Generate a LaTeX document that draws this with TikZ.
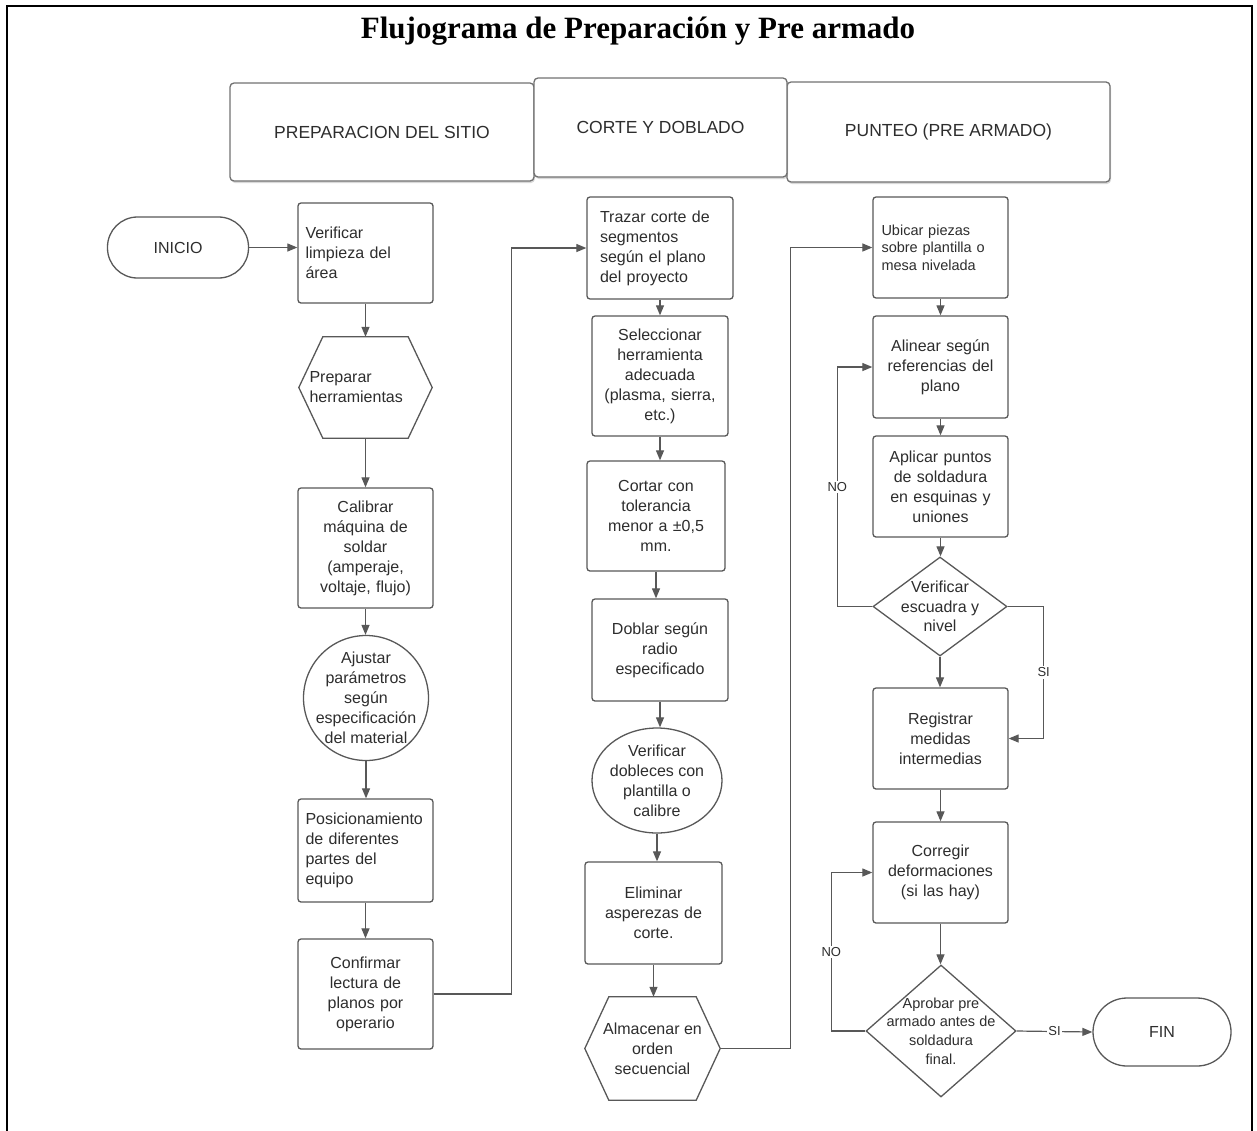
\documentclass[tikz,border=0pt]{standalone}
\usepackage{fontspec}
\setmainfont{Liberation Sans}
\newfontfamily\titlefont{Liberation Serif}
\usetikzlibrary{arrows.meta,shapes.geometric,shadows}
\definecolor{linegray}{RGB}{88,88,88}
\definecolor{txtgray}{RGB}{45,45,45}
\tikzset{
  proc/.style={draw=linegray,line width=1.3pt,rounded corners=3pt,minimum width=135pt,minimum height=101pt,
    text width=120pt,inner sep=0pt,align=center,text=txtgray,font=\fontsize{16}{20}\selectfont},
  procl/.style={proc,align=left},
  hdr/.style={draw=linegray!85,line width=1.3pt,rounded corners=4pt,fill=white,text=txtgray,
    font=\fontsize{17.5}{21}\selectfont,drop shadow={opacity=0.3,shadow xshift=1pt,shadow yshift=-2pt}},
  term/.style={draw=linegray,line width=1.3pt,text=txtgray,font=\fontsize{16}{20}\selectfont},
  txt/.style={text=txtgray,font=\fontsize{16}{20}\selectfont,align=center},
  shp/.style={draw=linegray,line width=1.3pt,inner sep=0pt},
  lbl/.style={fill=white,text=txtgray,font=\fontsize{13}{15}\selectfont,inner sep=1.5pt},
  conn/.style={draw=linegray,line width=1.2pt,->}
}
\begin{document}
\begin{tikzpicture}[x=1pt,y=-1pt,>={Triangle[length=10pt,width=8pt]}]
  \useasboundingbox (0,0) rectangle (1257,1130);
  \draw[line width=2.5pt] (7,1135) -- (7,6) -- (1252,6) -- (1252,1135);
  \node[font=\titlefont\bfseries\fontsize{31}{36}\selectfont] (title) at (638,31) {Flujograma de Preparación y Pre armado};

  \node[hdr,minimum width=304pt,minimum height=98pt] (hprep) at (382,132) {PREPARACION DEL SITIO};
  \node[hdr,minimum width=323pt,minimum height=100pt] (hpunt) at (948.5,132) {PUNTEO (PRE ARMADO)};
  \node[hdr,minimum width=253pt,minimum height=99pt] (hcort) at (660.5,127.5) {CORTE Y DOBLADO};

  \node[term,rounded corners=30pt,minimum width=141pt,minimum height=61pt] (ini) at (178,247.5) {INICIO};
  \node[procl,minimum height=100pt] (ver) at (365.5,253) {Verificar\\limpieza del\\área};
  \node[txt,align=left,inner sep=0pt,text width=112pt,minimum width=133pt,minimum height=101pt] (prep) at (365.5,387.5) {Preparar\\herramientas};
  \node[proc,minimum height=120pt] (cal) at (365.5,548) {Calibrar\\máquina de\\soldar\\(amperaje,\\voltaje, flujo)};
  \node[shp,circle,minimum size=125pt,label={[txt]center:{Ajustar\\parámetros\\según\\especificación\\del material}}] (ajus) at (366,698) {};
  \node[procl,minimum height=103pt] (pos) at (365.5,850.5) {Posicionamiento\\de diferentes\\partes del\\equipo};
  \node[proc,minimum height=110pt] (conf) at (365.5,994) {Confirmar\\lectura de\\planos por\\operario};

  \node[procl,minimum width=146pt,minimum height=102pt] (traz) at (660,248) {Trazar corte de\\segmentos\\según el plano\\del proyecto};
  \node[proc,minimum width=136pt,minimum height=120pt] (sel) at (660,376) {Seleccionar\\herramienta\\adecuada\\(plasma, sierra,\\etc.)};
  \node[proc,minimum width=138pt,minimum height=110pt] (cort) at (656,516) {Cortar con\\tolerancia\\menor a ±0,5\\mm.};
  \node[proc,minimum width=136pt,minimum height=102pt] (dob) at (660,650) {Doblar según\\radio\\especificado};
  \node[shp,ellipse,minimum width=130pt,minimum height=105pt,label={[txt]center:{Verificar\\dobleces con\\plantilla o\\calibre}}] (vdob) at (657,780.5) {};
  \node[proc,minimum width=137pt,minimum height=102pt] (elim) at (653.5,913) {Eliminar\\asperezas de\\corte.};
  \node[txt,inner sep=0pt,minimum width=135pt,minimum height=103pt] (alm) at (652.5,1048.5) {Almacenar en\\orden\\secuencial};

  \node[procl,text width=118pt,font=\fontsize{14.5}{17.5}\selectfont] (ubic) at (940.5,247.5) {Ubicar piezas\\sobre plantilla o\\mesa nivelada};
  \node[proc,minimum height=102pt] (alin) at (940.5,367) {Alinear según\\referencias del\\plano};
  \node[proc] (apl) at (940.5,486.5) {Aplicar puntos\\de soldadura\\en esquinas y\\uniones};
  \node[shp,diamond,minimum width=134pt,minimum height=99pt,label={[txt,font=\fontsize{16}{19.5}\selectfont]center:{Verificar\\escuadra y\\nivel}}] (vesc) at (940,606.5) {};
  \node[proc] (reg) at (940.5,738.5) {Registrar\\medidas\\intermedias};
  \node[proc] (corr) at (940.5,872.5) {Corregir\\deformaciones\\(si las hay)};
  \node[shp,diamond,minimum width=150pt,minimum height=132pt,label={[txt,font=\fontsize{14.5}{18.7}\selectfont]center:{Aprobar pre\\armado antes de\\soldadura\\final.}}] (apr) at (941,1031) {};
  \node[term,rounded corners=34pt,minimum width=138pt,minimum height=68pt] (fin) at (1162,1032) {FIN};

  \foreach \n in {prep,alm}
  {
    \draw[linegray,line width=1.3pt] ([xshift=24pt]\n.north west) -- ([xshift=-24pt]\n.north east) -- (\n.east)
      -- ([xshift=-24pt]\n.south east) -- ([xshift=24pt]\n.south west) -- (\n.west) -- cycle;
  }

  \draw[conn] (ini.east) -- (ini.east -| ver.west);
  \foreach \a/\b in {ver/prep,prep/cal,cal/ajus,ajus/pos,pos/conf,traz/sel,sel/cort,cort/dob,dob/vdob,vdob/elim,elim/alm,
    ubic/alin,alin/apl,apl/vesc,vesc/reg,reg/corr,corr/apr}
  {
    \draw[conn] (\a.south) -- (\a.south |- \b.north);
  }
  \draw[conn] (conf.east) -- ++(78,0) |- (traz.west);
  \draw[conn] (alm.east) -- ++(70,0) |- (ubic.west);
  \draw[conn] (vesc.west) -- ++(-35,0) |- node[lbl,pos=0.25]{NO} (alin.west);
  \draw[conn] (vesc.east) -- ++(36,0) |- node[lbl,pos=0.25]{SI} (reg.east);
  \draw[conn] (apr.west) -- ++(-34,0) |- node[lbl,pos=0.25]{NO} (corr.west);
  \draw[conn] (apr.east) -- node[lbl]{SI} (fin.west);
\end{tikzpicture}
\end{document}
